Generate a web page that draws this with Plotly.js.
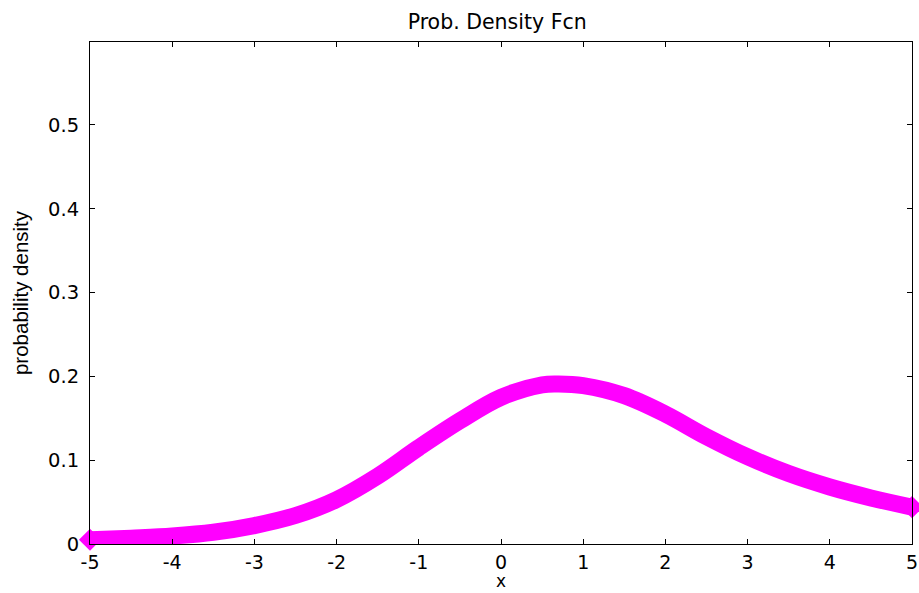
<!DOCTYPE html>
<html>
<head>
<meta charset="utf-8">
<script src="https://cdn.plot.ly/plotly-3.0.1.min.js"></script>
<style>html,body{margin:0;padding:0;background:#fff;}#chart{width:919px;height:593px;}</style>
</head>
<body>
<div id="chart"></div>
<script>
const xValues = [-5, -4.5, -4, -3.5, -3, -2.5, -2, -1.5, -1, -0.5, 0, 0.5, 0.7, 1, 1.5, 2, 2.5, 3, 3.5, 4, 4.5, 5];
const density = [0.005, 0.007, 0.0095, 0.014, 0.022, 0.034, 0.053, 0.081, 0.115, 0.147, 0.175, 0.190, 0.191, 0.189, 0.177, 0.155, 0.128, 0.104, 0.084, 0.068, 0.055, 0.044];
const xTicks = [-5, -4, -3, -2, -1, 0, 1, 2, 3, 4, 5];
const yTicks = [0, 0.1, 0.2, 0.3, 0.4, 0.5];
const yTickLabels = ['0', '0.1', '0.2', '0.3', '0.4', '0.5'];
const xLabel = 'x';

const traces = [
  {
    x: xValues, y: density, type: 'scatter', mode: 'lines',
    line: {color: '#ff00ff', width: 17, shape: 'spline', smoothing: 1},
    hoverinfo: 'x+y', showlegend: false, cliponaxis: false
  },
  {
    x: [xValues[0], xValues[xValues.length - 1]],
    y: [density[0], density[density.length - 1]],
    type: 'scatter', mode: 'markers',
    marker: {symbol: 'diamond', size: 17, color: '#ff00ff', line: {width: 0}},
    showlegend: false, cliponaxis: false, hoverinfo: 'skip'
  }
];

const hfont = {family: 'DejaVu Sans, Verdana, sans-serif', color: '#000'};
const layout = {
  width: 919, height: 593,
  margin: {l: 90, r: 7, t: 42, b: 49},
  paper_bgcolor: '#fff', plot_bgcolor: '#fff',
  font: Object.assign({size: 19}, hfont),
  title: {text: 'Prob. Density Fcn', font: Object.assign({size: 20.5}, hfont), x: 0.541, xanchor: 'center', y: 0.964, yanchor: 'middle'},
  xaxis: {
    range: [-5, 5], tickvals: xTicks, ticktext: xTicks.map(String),
    showgrid: false, zeroline: false, showline: true, linecolor: '#000', linewidth: 1,
    mirror: 'ticks', ticks: 'inside', ticklen: 5, tickcolor: '#000',
    tickfont: Object.assign({size: 19}, hfont), ticklabelstandoff: 1
  },
  yaxis: {
    range: [0, 0.599], tickvals: yTicks, ticktext: yTickLabels,
    showgrid: false, zeroline: false, showline: true, linecolor: '#000', linewidth: 1,
    mirror: 'ticks', ticks: 'inside', ticklen: 5, tickcolor: '#000',
    tickfont: Object.assign({size: 19.5}, hfont), ticklabelstandoff: 6,
    title: {text: 'probability density', font: {family: 'Liberation Sans Narrow, Liberation Sans, Arial, sans-serif', size: 20.5, color: '#000'}, standoff: 13}
  },
  annotations: [
    {text: xLabel, xref: 'paper', yref: 'paper', x: 0.5, y: 0, xanchor: 'center', yanchor: 'middle',
     yshift: -37, borderpad: 0, showarrow: false, font: Object.assign({size: 17}, hfont)}
  ]
};
Plotly.newPlot('chart', traces, layout, {displayModeBar: false, staticPlot: true});
</script>
</body>
</html>
